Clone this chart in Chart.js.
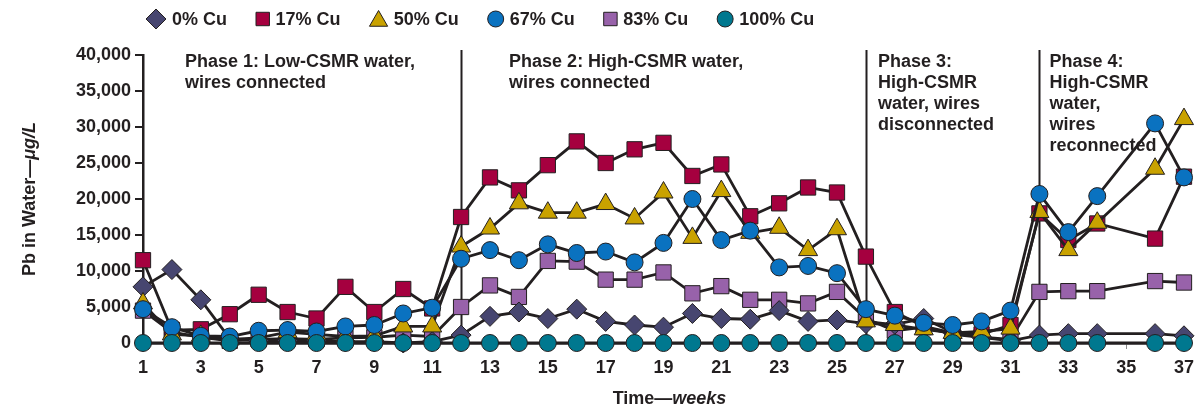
<!DOCTYPE html>
<html>
<head>
<meta charset="utf-8">
<script src="https://cdn.jsdelivr.net/npm/chart.js@4.4.1/dist/chart.umd.min.js"></script>
<style>
  html, body { margin: 0; padding: 0; background: #ffffff; }
  #wrap { width: 1202px; height: 411px; }
</style>
</head>
<body>
<div id="wrap"><canvas id="c" width="1202" height="411"></canvas></div>
<script>
// Weeks of the study (x categories); week 35 has no sample.
const weeks = [1, 2, 3, 4, 5, 6, 7, 8, 9, 10, 11, 12, 13, 14, 15, 16, 17, 18, 19,
  20, 21, 22, 23, 24, 25, 26, 27, 28, 29, 30, 31, 32, 33, 34, 35, 36, 37];
const weekTickLabels = ['1', '3', '5', '7', '9', '11', '13', '15', '17', '19', '21',
  '23', '25', '27', '29', '31', '33', '35', '37'];
const leadTickLabels = ['0', '5,000', '10,000', '15,000', '20,000', '25,000',
  '30,000', '35,000', '40,000'];

// Pb in water, µg/L, per copper fraction
const cu0 = [7800, 10200, 6000, 600, 300, 300, 300, 200, 200, 0, 200, 1100, 3700, 4300,
  3400, 4700, 3000, 2500, 2200, 4100, 3400, 3300, 4500, 3000, 3200, 2700, 2600, 3400,
  1500, 800, 300, 1100, 1300, 1300, null, 1300, 1000];
const cu17 = [11500, 1800, 1900, 4000, 6700, 4300, 3400, 7800, 4300, 7500, 4800, 17500,
  23000, 21200, 24700, 28000, 25000, 26900, 27800, 23200, 24800, 17600, 19400, 21600,
  20900, 12000, 4300, 2300, 1400, 1200, 2500, 18000, 14300, 16600, null, 14500, 23100];
const cu50 = [5500, 1200, 1000, 500, 700, 1500, 1200, 900, 1000, 2300, 2300, 13400,
  15900, 19400, 18100, 18100, 19300, 17300, 20900, 14600, 21100, 15300, 16000, 12900,
  15800, 3000, 2500, 1900, 1400, 1600, 2000, 18200, 12900, 16700, null, 24200, 31100];
const cu67 = [4700, 2200, 1000, 900, 1700, 1800, 1600, 2300, 2500, 4100, 4900, 11700,
  12900, 11500, 13700, 12500, 12700, 11200, 13900, 20000, 14300, 15600, 10500, 10700,
  9700, 4700, 3800, 2800, 2500, 3000, 4500, 20700, 15400, 20400, null, 30500, 23000];
const cu83 = [4500, 1500, 800, 300, 500, 600, 500, 700, 800, 1100, 900, 5000, 8000,
  6400, 11400, 11300, 8800, 8800, 9800, 6900, 7900, 6000, 6000, 5500, 7100, 3400, 1700,
  2200, 1200, 800, 500, 7100, 7200, 7200, null, 8600, 8400];
const cu100 = [0, 0, 0, 0, 0, 0, 0, 0, 0, 0, 0, 0, 0, 0, 0, 0, 0, 0, 0, 0, 0, 0, 0, 0,
  0, 0, 0, 0, 0, 0, 0, 0, 0, 0, null, 0, 0];

const seriesLabels = ['0% Cu', '17% Cu', '50% Cu', '67% Cu', '83% Cu', '100% Cu'];

// Phase boundaries (week) and their captions
const phaseWeeks = [12, 26, 32];
const phaseNotes = [
  { week: 1, lines: ['Phase 1: Low-CSMR water,', 'wires connected'] },
  { week: 12, lines: ['Phase 2: High-CSMR water,', 'wires connected'] },
  { week: 26, lines: ['Phase 3:', 'High-CSMR', 'water, wires', 'disconnected'] },
  { week: 32, lines: ['Phase 4:', 'High-CSMR', 'water,', 'wires', 'reconnected'] }
];

const INK = '#231f20';
const FONT = '"Liberation Sans", Arial, Helvetica, sans-serif';

function series(label, data, style, fill, radius, order) {
  return {
    label, data, order,
    pointStyle: style,
    pointRadius: radius,
    pointBackgroundColor: fill,
    pointBorderColor: INK,
    pointBorderWidth: 1,
    backgroundColor: fill,
    borderColor: INK,
    borderWidth: 2.8,
    tension: 0,
    spanGaps: true,
    clip: false
  };
}

const datasets = [
  series(seriesLabels[0], cu0, 'rectRot', '#474670', 10, 4),
  series(seriesLabels[1], cu17, 'rect', '#a5003f', 10.8, 3),
  series(seriesLabels[2], cu50, 'triangle', '#c9a200', 11, 2),
  series(seriesLabels[3], cu67, 'circle', '#0a72c0', 8.5, 1),
  series(seriesLabels[4], cu83, 'rect', '#9862aa', 10.8, 5),
  series(seriesLabels[5], cu100, 'circle', '#00788f', 8.5, 0)
];

function drawMarker(ctx, style, x, y, r, fill) {
  ctx.save();
  ctx.fillStyle = fill;
  ctx.strokeStyle = INK;
  ctx.lineWidth = 1;
  if (Chart.helpers && Chart.helpers.drawPoint) {
    Chart.helpers.drawPoint(ctx, { pointStyle: style, radius: r, rotation: 0, borderWidth: 1 }, x, y);
  }
  ctx.restore();
}

// Legend row, phase separators/captions and the two axis titles
const annotations = {
  id: 'annotations',
  beforeDatasetsDraw(chart) {
    const { ctx, chartArea, scales } = chart;
    const xs = scales.x;
    ctx.save();
    ctx.strokeStyle = INK;
    ctx.lineWidth = 2;
    phaseWeeks.forEach(w => {
      const px = Math.round(xs.getPixelForValue(weeks.indexOf(w))) + 0.5;
      ctx.beginPath();
      ctx.moveTo(px, chartArea.top - 5);
      ctx.lineTo(px, chartArea.bottom);
      ctx.stroke();
    });
    ctx.fillStyle = INK;
    ctx.font = 'bold 18px ' + FONT;
    ctx.textBaseline = 'middle';
    ctx.textAlign = 'left';
    const offsets = [42, 48, 12, 10];
    phaseNotes.forEach((note, i) => {
      const px = xs.getPixelForValue(weeks.indexOf(note.week)) + offsets[i];
      note.lines.forEach((line, j) => {
        ctx.fillText(line, px, chartArea.top + 7 + j * 21);
      });
    });
    ctx.restore();
  },
  afterDraw(chart) {
    const { ctx, chartArea } = chart;
    ctx.save();
    ctx.fillStyle = INK;
    ctx.textBaseline = 'middle';
    ctx.textAlign = 'left';

    // legend
    ctx.font = 'bold 18px ' + FONT;
    let cursor = 146;
    chart.data.datasets.forEach(ds => {
      const r = ds.pointStyle === 'rectRot' ? 10 : ds.pointStyle === 'triangle' ? 10.5 :
        ds.pointStyle === 'circle' ? 8 : 9.5;
      const half = ds.pointStyle === 'rect' ? r * Math.SQRT1_2 : ds.pointStyle === 'triangle' ? r * 0.866 : r;
      const cx = cursor + half;
      drawMarker(ctx, ds.pointStyle, cx, ds.pointStyle === 'triangle' ? 21 : 19, r, ds.pointBackgroundColor);
      ctx.fillStyle = INK;
      const tx = cx + half + 6;
      ctx.fillText(ds.label, tx, 20);
      cursor = tx + ctx.measureText(ds.label).width + 29;
    });

    // y title
    const yParts = [['Pb in Water—', 'bold'], ['μg/L', 'italic bold']];
    ctx.save();
    ctx.translate(30, 199);
    ctx.rotate(-Math.PI / 2);
    let total = 0;
    yParts.forEach(p => { ctx.font = p[1] + ' 18px ' + FONT; total += ctx.measureText(p[0]).width; });
    let x = -total / 2;
    yParts.forEach(p => {
      ctx.font = p[1] + ' 18px ' + FONT;
      ctx.fillText(p[0], x, 0);
      x += ctx.measureText(p[0]).width;
    });
    ctx.restore();

    // x title
    const xParts = [['Time—', 'bold'], ['weeks', 'italic bold']];
    total = 0;
    xParts.forEach(p => { ctx.font = p[1] + ' 18px ' + FONT; total += ctx.measureText(p[0]).width; });
    x = (chartArea.left + chartArea.right) / 2 + 6 - total / 2;
    xParts.forEach(p => {
      ctx.font = p[1] + ' 18px ' + FONT;
      ctx.fillText(p[0], x, 399);
      x += ctx.measureText(p[0]).width;
    });
    ctx.restore();
  }
};

new Chart(document.getElementById('c'), {
  type: 'line',
  data: { labels: weeks.map(String), datasets },
  options: {
    responsive: false,
    animation: false,
    events: [],
    layout: { padding: { top: 55, right: 17, bottom: 0, left: 0 } },
    plugins: { legend: { display: false }, tooltip: { enabled: false } },
    scales: {
      x: {
        type: 'category',
        offset: false,
        afterFit(scale) { scale.height = 68; },
        border: { display: true, color: INK, width: 2.5 },
        grid: { drawOnChartArea: false, drawTicks: true, tickLength: 6, color: '#8a8a8a', lineWidth: 1 },
        ticks: {
          autoSkip: false,
          maxRotation: 0,
          padding: 8,
          color: INK,
          font: { family: FONT, size: 18, weight: 'bold' },
          callback(value, index) {
            const label = String(weeks[index]);
            return weekTickLabels.includes(label) ? label : null;
          }
        }
      },
      y: {
        min: 0,
        max: 40000,
        afterFit(scale) { scale.width = 143; },
        border: { display: true, color: INK, width: 2.5 },
        grid: { drawOnChartArea: false, drawTicks: true, tickLength: 8, color: INK, lineWidth: 2 },
        ticks: {
          stepSize: 5000,
          padding: 4,
          color: INK,
          font: { family: FONT, size: 18, weight: 'bold' },
          callback(value) {
            const i = Math.round(value / 5000);
            return leadTickLabels[i];
          }
        }
      }
    }
  },
  plugins: [annotations]
});
</script>
</body>
</html>
